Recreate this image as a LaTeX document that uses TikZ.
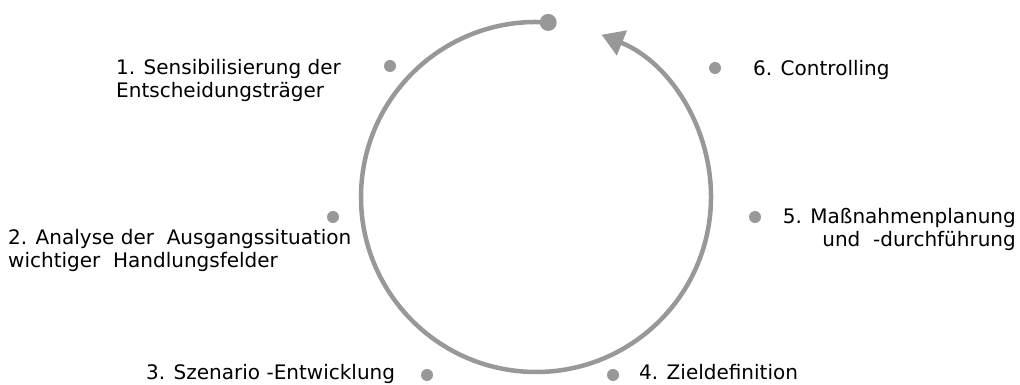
\documentclass[tikz,border=0pt]{standalone}
\usepackage{fontspec}
\setmainfont{DejaVu Sans}
\usetikzlibrary{arrows.meta}
\definecolor{ringgray}{RGB}{152,152,152}

\begin{document}
\begin{tikzpicture}[x=1pt,y=1pt,
  dot/.style={circle,fill=ringgray,inner sep=0pt,minimum size=12pt},
  lbl/.style={inner sep=0pt,font=\fontsize{20}{23}\selectfont},
  ring/.style={draw=ringgray,line width=4.5pt,-{Triangle[length=22pt,width=26pt]}}]
  \useasboundingbox (0,0) rectangle (1020,385);
  \coordinate (c) at (536,188);
  \draw [ring] (c) ++(86:175) coordinate (start) arc[start angle=86,end angle=428,radius=175];
  \node [dot,minimum size=17pt] (d0) at (start) {};
  \node [dot] (d1) at (390,319) {};
  \node [dot] (d6) at (715,317) {};
  \node [dot] (d2) at (333,168) {};
  \node [dot] (d5) at (755,168) {};
  \node [dot] (d3) at (427,10) {};
  \node [dot] (d4) at (613,10) {};
  % base of a two-line node is the baseline of its last line
  \node [lbl,anchor=base west,align=left] (t1) at (116,287) {1. Sensibilisierung\ der\\Entscheidungsträger};
  \node [lbl,anchor=base west] (t6) at (753,309) {6. Controlling};
  \node [lbl,anchor=base west,align=left] (t2) at (8,117) {2. Analyse der\ \ Ausgangssituation\\wichtiger\ \ Handlungsfelder};
  \node [lbl,anchor=base east,align=right] (t5) at (1016,138) {5. Maßnahmenplanung\\und\ \ -durchführung};
  \node [lbl,anchor=base west] (t3) at (146,5) {3. Szenario -Entwicklung};
  \node [lbl,anchor=base west] (t4) at (639,5) {4. Zieldefinition};
\end{tikzpicture}
\end{document}
